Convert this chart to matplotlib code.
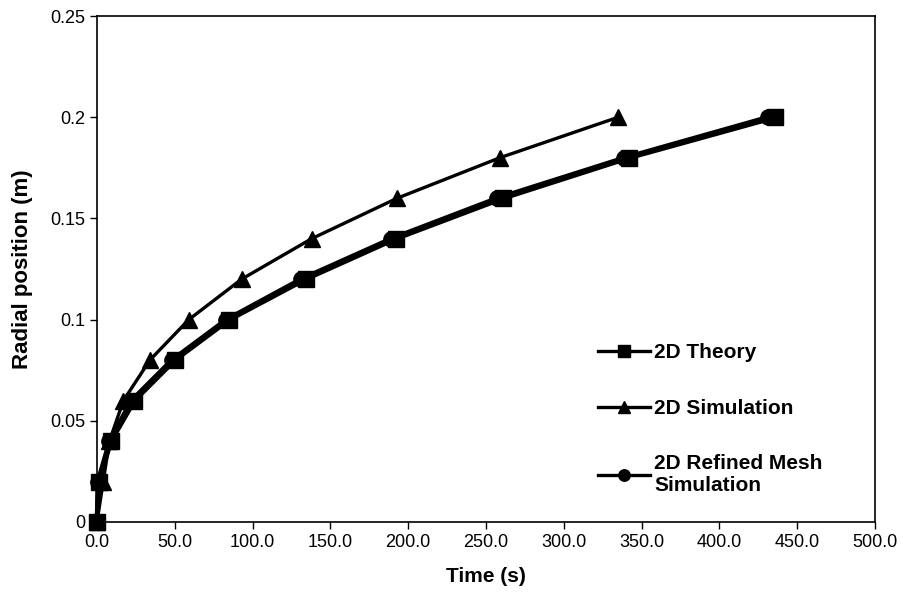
import matplotlib
matplotlib.use("Agg")
import matplotlib.pyplot as plt
from matplotlib.ticker import FormatStrFormatter, FuncFormatter

plt.rcParams['font.family'] = ['Liberation Sans', 'DejaVu Sans']

# radial positions (m)
radius = [0.0, 0.02, 0.04, 0.06, 0.08, 0.10, 0.12, 0.14, 0.16, 0.18, 0.20]
# times (s)
t_theory = [0.0, 1.0, 9.0, 24.0, 50.0, 85.0, 134.0, 192.0, 261.0, 342.0, 436.0]
t_sim = [0.0, 4.0, 8.0, 17.0, 34.0, 59.0, 93.0, 138.0, 193.0, 259.0, 335.0]
t_refined = [0.0, 0.5, 8.0, 22.0, 48.0, 83.0, 131.0, 189.0, 257.0, 339.0, 431.0]

labels = ["2D Theory", "2D Simulation", "2D Refined Mesh\nSimulation"]

fig = plt.figure(figsize=(9.04, 6.03), dpi=100)
ax = fig.add_axes([97/904, 81/603, 778/904, 506/603])

ax.plot(t_theory, radius, color='black', lw=3.6, marker='s', ms=12,
        label=labels[0], clip_on=False, zorder=3)
ax.plot(t_sim, radius, color='black', lw=2.4, marker='^', ms=11,
        label=labels[1], clip_on=False, zorder=3)
ax.plot(t_refined, radius, color='black', lw=3.2, marker='o', ms=11,
        label=labels[2], clip_on=False, zorder=2)

ax.set_xlim(0, 500)
ax.set_ylim(0, 0.25)
ax.set_xticks([0, 50, 100, 150, 200, 250, 300, 350, 400, 450, 500])
ax.set_yticks([0, 0.05, 0.1, 0.15, 0.2, 0.25])
ax.xaxis.set_major_formatter(FormatStrFormatter('%.1f'))
ax.yaxis.set_major_formatter(FuncFormatter(lambda v, p: '%g' % round(v, 2)))
ax.tick_params(labelsize=13, direction='out', length=5, width=1)
for s in ax.spines.values():
    s.set_linewidth(1.2)

ax.set_xlabel("Time (s)", fontsize=15, fontweight='bold', labelpad=12)
ax.set_ylabel("Radial position (m)", fontsize=16, fontweight='bold', labelpad=12)

leg = ax.legend(loc='upper left', bbox_to_anchor=(0.62, 0.39), frameon=False,
                prop={'size': 15, 'weight': 'bold'}, handlelength=2.5,
                handletextpad=0.2, labelspacing=1.75, markerscale=0.75)
# legend samples are drawn with thinner lines in the original
for ln in leg.get_lines():
    ln.set_linewidth(2.4)

fig.savefig("out.png", dpi=100)
